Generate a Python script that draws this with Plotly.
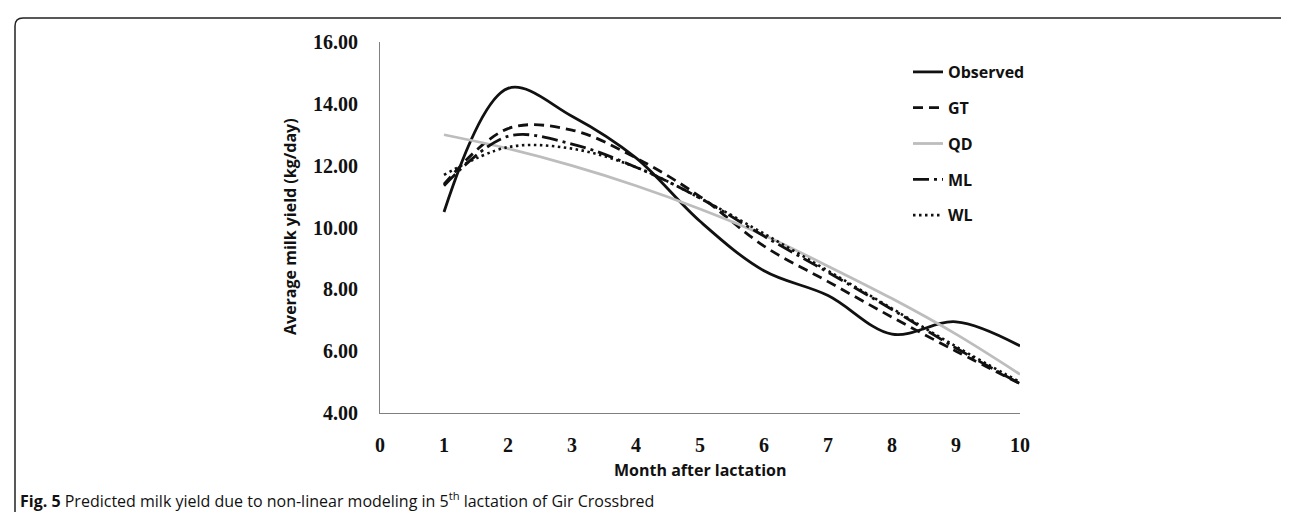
import plotly.graph_objects as go

months = [1, 2, 3, 4, 5, 6, 7, 8, 9, 10]
observed = [10.5, 14.5, 13.6, 12.25, 10.2, 8.6, 7.8, 6.55, 6.95, 6.17]
gt = [11.4, 13.2, 13.15, 12.25, 11.0, 9.4, 8.25, 7.1, 6.0, 4.95]
qd = [13.0, 12.55, 12.0, 11.35, 10.6, 9.75, 8.75, 7.7, 6.55, 5.25]
ml = [11.35, 12.95, 12.7, 11.95, 10.95, 9.72, 8.55, 7.35, 6.1, 4.95]
wl = [11.7, 12.6, 12.55, 11.95, 10.95, 9.8, 8.6, 7.38, 6.15, 5.0]

x_ticks = list(range(0, 11))
y_ticks = [4, 6, 8, 10, 12, 14, 16]
y_tick_text = ["4.00", "6.00", "8.00", "10.00", "12.00", "14.00", "16.00"]

W, H = 1289, 512
L, R, T, B = 372, 1289 - 1012, 34, 512 - 405
PW, PH = W - L - R, H - T - B


def px(x):
    return (x - L) / PW


def py(y):
    return (H - B - y) / PH


series = [
    ("Observed", observed, dict(color="#111111", width=2.8, dash="solid")),
    ("GT", gt, dict(color="#111111", width=2.8, dash="10px,6px")),
    ("QD", qd, dict(color="#bdbdbd", width=2.8, dash="solid")),
    ("ML", ml, dict(color="#111111", width=2.8, dash="16px,5px,3px,5px")),
    ("WL", wl, dict(color="#111111", width=2.6, dash="2.5px,3.5px")),
]

fig = go.Figure()
for name, vals, line in series:
    fig.add_trace(go.Scatter(
        x=months, y=vals, name=name, mode="lines",
        line=dict(shape="spline", smoothing=1.0, **line),
        legendgroup=name,
    ))

border = (
    f"M {px(7)},{py(530)} L {px(7)},{py(18)} Q {px(7)},{py(10)} {px(15)},{py(10)} "
    f"L {px(1283)},{py(10)} Q {px(1291)},{py(10)} {px(1291)},{py(18)} L {px(1291)},{py(530)}"
)

fig.update_layout(
    width=W, height=H,
    margin=dict(l=L, r=R, t=T, b=B),
    paper_bgcolor="white", plot_bgcolor="white",
    showlegend=True,
    legend=dict(
        x=px(900), y=py(47), xanchor="left", yanchor="top",
        font=dict(family="Open Sans", size=16, color="#111111", weight="bold"),
        tracegroupgap=12, bgcolor="rgba(0,0,0,0)",
    ),
    xaxis=dict(
        range=[0, 10], tickvals=x_ticks, ticktext=[str(v) for v in x_ticks],
        showgrid=False, zeroline=False, showline=True, linecolor="#808080", linewidth=1,
        ticks="outside", ticklen=14, tickcolor="rgba(0,0,0,0)",
        tickfont=dict(family="Liberation Serif", size=20, color="#111111", weight="bold"),
    ),
    yaxis=dict(
        range=[4, 16], tickvals=y_ticks, ticktext=y_tick_text,
        showgrid=False, zeroline=False, showline=True, linecolor="#808080", linewidth=1,
        ticks="outside", ticklen=17, tickcolor="rgba(0,0,0,0)",
        tickfont=dict(family="Liberation Serif", size=20, color="#111111", weight="bold"),
    ),
    shapes=[dict(type="path", xref="paper", yref="paper", path=border,
                 line=dict(color="#222222", width=1.5))],
    annotations=[
        dict(text="<b>Average milk yield (kg/day)</b>", x=px(282), y=py(219),
             xref="paper", yref="paper", showarrow=False, textangle=-90,
             xanchor="center", yanchor="middle",
             font=dict(family="Open Sans", size=16, color="#111111")),
        dict(text="<b>Month after lactation</b>", x=px(692), y=py(462),
             xref="paper", yref="paper", showarrow=False,
             xanchor="center", yanchor="middle",
             font=dict(family="Open Sans", size=16, color="#111111")),
        dict(text="<b>Fig. 5</b> Predicted milk yield due to non-linear modeling in 5<sup>th</sup> lactation of Gir Crossbred",
             x=px(10), y=py(492), xref="paper", yref="paper", showarrow=False,
             xanchor="left", yanchor="middle",
             font=dict(family="Open Sans", size=16, color="#111111")),
    ],
)

fig.write_html("out.html")
